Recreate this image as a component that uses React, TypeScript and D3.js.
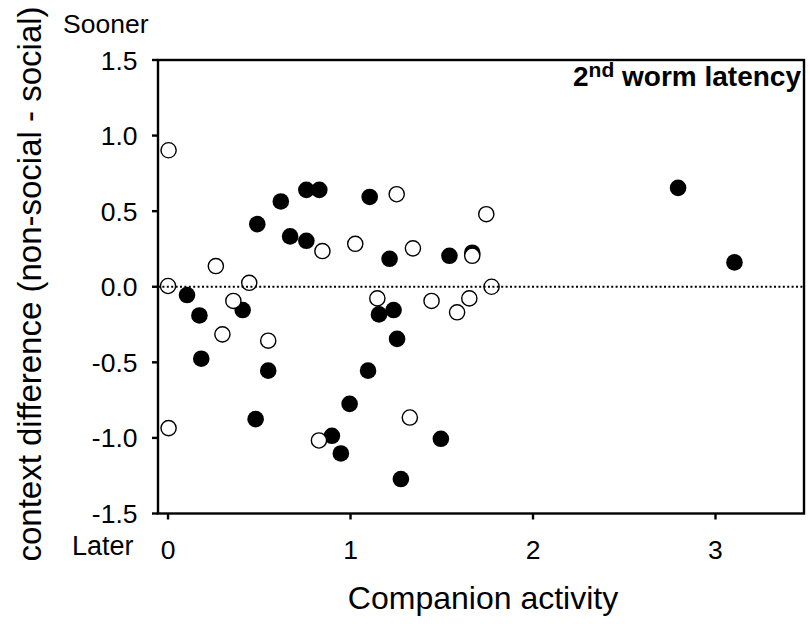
import React from "react";
import * as d3 from "d3";

// Filled circles: [companion activity, context difference]
const filledX = [0.104, 0.172, 0.182, 0.409, 0.489, 0.48, 0.549, 0.618, 0.669, 0.758, 0.829, 0.758, 0.898, 0.947, 0.995, 1.096, 1.105, 1.156, 1.214, 1.236, 1.255, 1.276, 1.495, 1.542, 1.667, 2.795, 3.104];
const filledY = [-0.055, -0.19, -0.476, -0.154, 0.414, -0.876, -0.555, 0.564, 0.333, 0.641, 0.641, 0.304, -0.986, -1.103, -0.775, -0.555, 0.594, -0.183, 0.185, -0.154, -0.345, -1.272, -1.006, 0.205, 0.225, 0.654, 0.161];

// Open circles
const openX = [0.003, 0.0, 0.003, 0.262, 0.298, 0.358, 0.445, 0.549, 0.827, 0.846, 1.026, 1.147, 1.253, 1.325, 1.342, 1.444, 1.584, 1.651, 1.667, 1.744, 1.773];
const openY = [0.903, 0.005, -0.935, 0.137, -0.315, -0.094, 0.026, -0.357, -1.017, 0.236, 0.284, -0.077, 0.612, -0.865, 0.254, -0.094, -0.169, -0.077, 0.205, 0.48, 0.0];

const xTicks = [0, 1, 2, 3];
const yTicks = [-1.5, -1.0, -0.5, 0.0, 0.5, 1.0, 1.5];

export default function App() {
  const W = 810, H = 624;
  const left = 158, right = 804, top = 60, bottom = 513.5;
  const x = d3.scaleLinear().domain([-0.055, 3.485]).range([left, right]);
  const y = d3.scaleLinear().domain([-1.5, 1.5]).range([bottom, top]);
  const font = "'Liberation Sans', Arial, Helvetica, sans-serif";
  const filled = filledX.map((v, i) => [v, filledY[i]]);
  const open = openX.map((v, i) => [v, openY[i]]);
  return (
    <svg width={W} height={H} style={{ position: "absolute", left: 0, top: 0 }} fontFamily={font}>
      <rect width={W} height={H} fill="#fff" />
      {filled.map((d, i) => (
        <circle key={"f" + i} cx={x(d[0])} cy={y(d[1])} r={8.3} fill="#000" />
      ))}
      {open.map((d, i) => (
        <circle key={"o" + i} cx={x(d[0])} cy={y(d[1])} r={7.6} fill="#fff" stroke="#000" strokeWidth={1.4} />
      ))}
      <line x1={left} x2={right} y1={y(0)} y2={y(0)} stroke="#000" strokeWidth={2} strokeDasharray="2 2.4" />
      {/* frame */}
      <rect x={left} y={top} width={right - left} height={bottom - top} fill="none" stroke="#000" strokeWidth={2.4} />
      {/* y ticks */}
      {yTicks.map((t) => (
        <g key={"y" + t}>
          <line x1={left - 6} x2={left} y1={y(t)} y2={y(t)} stroke="#000" strokeWidth={2.4} />
          <text x={137.5} y={y(t)} dy="0.36em" textAnchor="end" fontSize={26.5}>
            {t.toFixed(1)}
          </text>
        </g>
      ))}
      {xTicks.map((t) => (
        <g key={"x" + t}>
          <line x1={x(t)} x2={x(t)} y1={bottom} y2={bottom + 6} stroke="#000" strokeWidth={2.4} />
          <text x={x(t)} y={559} textAnchor="middle" fontSize={26.5}>
            {String(t)}
          </text>
        </g>
      ))}
      <text x={63} y={33} fontSize={26.5}>Sooner</text>
      <text x={72} y={555} fontSize={27}>Later</text>
      <text x={(left + right) / 2 + 2} y={609} textAnchor="middle" fontSize={32}>
        Companion activity
      </text>
      <text transform={`translate(41, 284) rotate(-90)`} textAnchor="middle" fontSize={33}>
        context difference (non-social - social)
      </text>
      <text x={801} y={86} textAnchor="end" fontSize={28} fontWeight="bold">
        <tspan>2</tspan>
        <tspan dy={-9} fontSize={21}>nd</tspan>
        <tspan dy={9}> worm latency</tspan>
      </text>
    </svg>
  );
}
